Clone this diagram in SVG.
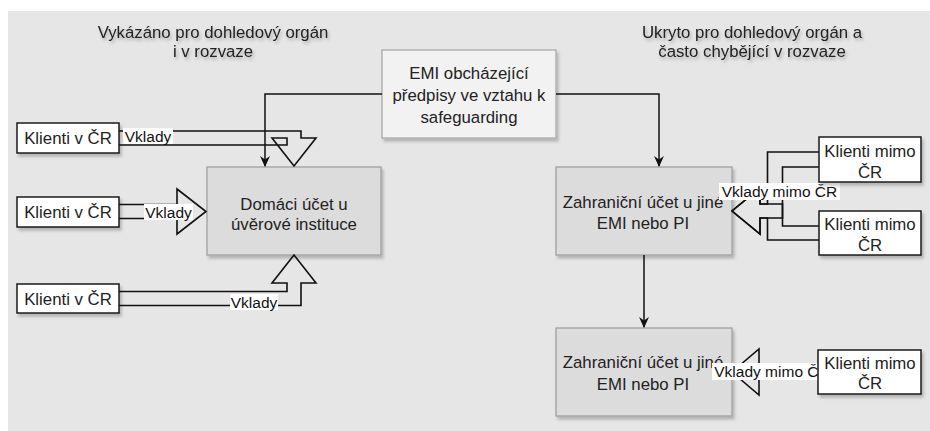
<svg xmlns="http://www.w3.org/2000/svg" width="930" height="431" viewBox="0 0 930 431">
<defs>
<style>
text{font-family:"Liberation Sans",Arial,sans-serif;fill:#222;text-anchor:middle}
.t{font-size:16.8px}
.lb{font-size:15.5px;fill:#111}
.hd{font-size:16.8px;fill:#222}
.emi{fill:#f2f2f2;stroke:#a9a9a9;stroke-width:1.3}
.acc{fill:#dcdcdc;stroke:#a0a0a0;stroke-width:1.3}
.cl{fill:#ffffff;stroke:#1a1a1a;stroke-width:1.5}
.fa{fill:none;stroke:#111;stroke-width:1.6;stroke-linejoin:miter}
.cn{fill:none;stroke:#111;stroke-width:1.5}
.lbg{fill:#ffffff}
</style>
<filter id="sh" x="-10%" y="-10%" width="130%" height="140%">
<feDropShadow dx="2" dy="3" stdDeviation="1.6" flood-color="#000" flood-opacity="0.22"/>
</filter>
<filter id="tsh" x="-5%" y="-30%" width="110%" height="170%">
<feDropShadow dx="1.5" dy="2.5" stdDeviation="1.5" flood-color="#000" flood-opacity="0.25"/>
</filter>
<marker id="ah" viewBox="0 0 10 10" refX="10" refY="5" markerWidth="7" markerHeight="7" markerUnits="userSpaceOnUse" orient="auto">
<path d="M0,0 L10,5 L0,10 L2.5,5 Z" fill="#111"/>
</marker>
<marker id="ah2" viewBox="0 0 10 10" refX="9" refY="5" markerWidth="11" markerHeight="11" markerUnits="userSpaceOnUse" orient="auto">
<path d="M0,0.5 L10,5 L0,9.5 L3,5 Z" fill="#111"/>
</marker>
</defs>
<rect x="8" y="11" width="922" height="420" fill="#e6e6e6"/>

<g id="header-left" filter="url(#tsh)">
<text class="hd" x="213" y="38">Vykázáno pro dohledový orgán</text>
<text class="hd" x="213" y="57">i v rozvaze</text>
</g>
<g id="header-right" filter="url(#tsh)">
<text class="hd" x="752" y="38">Ukryto pro dohledový orgán a</text>
<text class="hd" x="752" y="57">často chybějící v rozvaze</text>
</g>

<g id="emi">
<rect class="emi" x="382" y="50" width="174" height="88" filter="url(#sh)"/>
<text class="t" x="469" y="79">EMI obcházející</text>
<text class="t" x="469" y="101">předpisy ve vztahu k</text>
<text class="t" x="469" y="123">safeguarding</text>
</g>
<g id="domaci">
<rect class="acc" x="207" y="167" width="174" height="88" filter="url(#sh)"/>
<text class="t" x="294" y="210">Domáci účet u</text>
<text class="t" x="294" y="230">úvěrové instituce</text>
</g>
<g id="zahranicni1">
<rect class="acc" x="556" y="167" width="176" height="88" filter="url(#sh)"/>
<text class="t" x="643" y="208">Zahraniční účet u jiné</text>
<text class="t" x="643" y="229">EMI nebo PI</text>
</g>
<g id="zahranicni2">
<rect class="acc" x="556" y="328" width="176" height="88" filter="url(#sh)"/>
<text class="t" x="643" y="368">Zahraniční účet u jiné</text>
<text class="t" x="643" y="390">EMI nebo PI</text>
</g>

<g id="connectors">
<path class="fa" d="M119,131 H301 V138 H316 L294,166 L272,138 H287 V145 H119"/>
<path class="fa" d="M119,204.5 H177 V189 L206,211.5 L177,234 V218.5 H119"/>
<path class="fa" d="M119,291.5 H287 V283 H272 L294,255 L316,283 H301 V305.5 H119"/>
<path class="fa" d="M819,152 H767.5 V204 H760 V188 L732,211 L760,234 V218 H782.5 V167 H819"/>
<path class="fa" d="M819,240 H767.5 V218 H760 V234 L732,211 L760,188 V204 H782.5 V226 H819"/>
<path class="fa" d="M818,365 H759 V349 L732,372 L759,395 V379 H818"/>
<path class="cn" d="M382,94 H265 V166" marker-end="url(#ah2)"/>
<path class="cn" d="M556,94 H659 V166" marker-end="url(#ah2)"/>
<path class="cn" d="M644,255 V327" marker-end="url(#ah2)"/>
<rect class="lbg" x="123" y="128" width="50" height="16"/>
<text class="lb" x="148" y="141.5">Vklady</text>
<rect class="lbg" x="144" y="204" width="49" height="16"/>
<text class="lb" x="168.5" y="217.5">Vklady</text>
<rect class="lbg" x="230" y="294" width="48" height="16"/>
<text class="lb" x="254" y="307.5">Vklady</text>
<rect class="lbg" x="719" y="183" width="121" height="17"/>
<text class="lb" x="779.5" y="197">Vklady mimo ČR</text>
<rect class="lbg" x="712" y="363" width="121" height="17"/>
<text class="lb" x="772" y="377">Vklady mimo ČR</text>
</g>

<g id="klienti1">
<rect class="cl" x="17" y="123" width="102" height="30" filter="url(#sh)"/>
<text class="t" x="68" y="144">Klienti v ČR</text>
</g>
<g id="klienti2">
<rect class="cl" x="17" y="197" width="102" height="30" filter="url(#sh)"/>
<text class="t" x="68" y="218">Klienti v ČR</text>
</g>
<g id="klienti3">
<rect class="cl" x="17" y="284" width="102" height="29" filter="url(#sh)"/>
<text class="t" x="68" y="305">Klienti v ČR</text>
</g>
<g id="mimo1">
<rect class="cl" x="819" y="137" width="102" height="45" filter="url(#sh)"/>
<text class="t" x="870" y="157">Klienti mimo</text>
<text class="t" x="870" y="178">ČR</text>
</g>
<g id="mimo2">
<rect class="cl" x="819" y="211" width="102" height="44" filter="url(#sh)"/>
<text class="t" x="870" y="230">Klienti mimo</text>
<text class="t" x="870" y="251">ČR</text>
</g>
<g id="mimo3">
<rect class="cl" x="818" y="350" width="103" height="44" filter="url(#sh)"/>
<text class="t" x="870" y="369">Klienti mimo</text>
<text class="t" x="870" y="389">ČR</text>
</g>
</svg>
